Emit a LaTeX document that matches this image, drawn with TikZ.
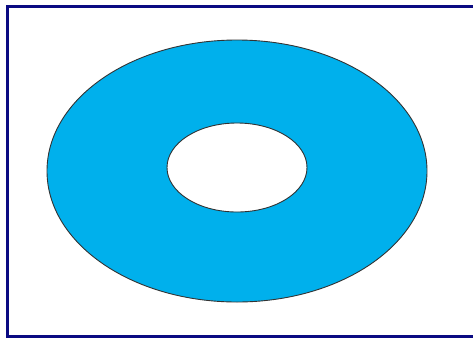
\documentclass[tikz,border=0pt]{standalone}
\usepackage{tikz}
\definecolor{ringblue}{RGB}{0,176,236}
\definecolor{framenavy}{RGB}{10,10,130}
\begin{document}
\begin{tikzpicture}[x=1pt, y=-1pt]
    % Khung
    \useasboundingbox (0,0) rectangle (473,338);
    \clip (0,0) rectangle (473,338);
    \draw[framenavy, line width=3pt] (7.5,6) rectangle (476,336.5);
    
    % Hình vành khăn
    \fill[ringblue, even odd rule] (237,171) ellipse [x radius=190, y radius=131]
        (237,167.5) ellipse [x radius=70, y radius=44.5];
    \draw[black!80, line width=0.9pt] (237,171) ellipse [x radius=190, y radius=131];
    \draw[black!80, line width=0.9pt] (237,167.5) ellipse [x radius=70, y radius=44.5];
\end{tikzpicture}
\end{document}
